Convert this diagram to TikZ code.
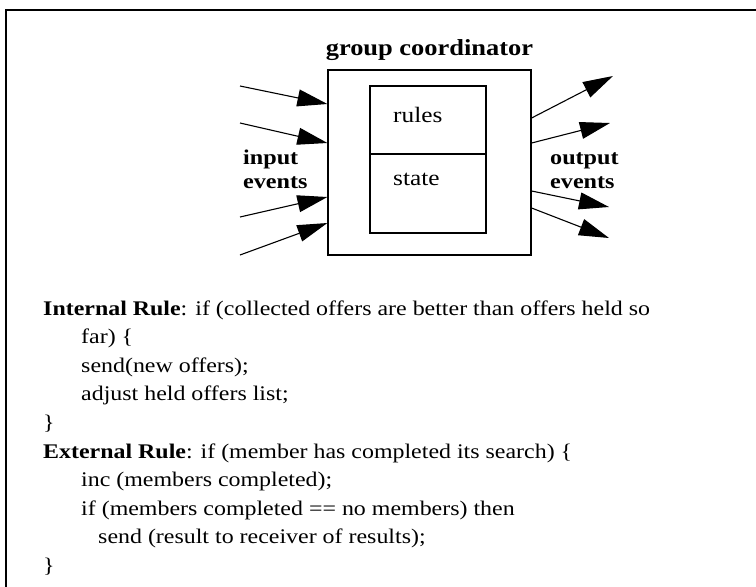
\documentclass[tikz,border=0pt]{standalone}
\usepackage{fontspec}
\setmainfont{Liberation Serif}[FakeStretch=1.15]
\usetikzlibrary{arrows.meta}
\tikzset{
  box/.style={draw, line width=1.2pt, inner sep=0pt},
  evt/.style={line width=1.1pt, -{Triangle[length=30pt,width=17pt]}},
  lbl/.style={font=\fontsize{22}{24}\selectfont, inner sep=0pt, anchor=base west},
  side/.style={font=\fontsize{21}{24}\selectfont\bfseries, inner sep=0pt, anchor=base west, align=left},
  body/.style={font=\fontsize{20.8}{24}\selectfont, inner sep=0pt, anchor=base west},
}
\begin{document}
\begin{tikzpicture}[x=1pt, y=-1pt]
\useasboundingbox (0,0) rectangle (756,587);
% frame (top and left edges)
\draw[line width=1.6pt] (6,587) -- (6,10) -- (756,10);

% coordinator and its inner rules/state box
\node[box, minimum width=203pt, minimum height=185pt] (coord) at (429.5,162.5) {};
\node[box, minimum width=116pt, minimum height=68pt] (rulesbox) at (428,120) {};
\node[box, minimum width=116pt, minimum height=79pt] (statebox) at (428,193.5) {};
\node[font=\fontsize{23}{24}\selectfont\bfseries, inner sep=0pt, anchor=base] (title) at (429.5,55) {group coordinator};
\node[lbl] (rules) at (393,122) {rules};
\node[lbl] (state) at (393,185) {state};

% incoming events
\coordinate (i1) at (240,86);  \coordinate (i2) at (240,123);
\coordinate (i3) at (240,217); \coordinate (i4) at (240,255);
\draw[evt] (i1) -- (coord.west |- 0,104);
\draw[evt] (i2) -- (coord.west |- 0,143);
\draw[evt] (i3) -- (coord.west |- 0,197);
\draw[evt] (i4) -- (coord.west |- 0,223);
\node[side] (inev) at (243,188) {input\\events};

% outgoing events
\coordinate (o1) at (613,76);  \coordinate (o2) at (610,123);
\coordinate (o3) at (609,207); \coordinate (o4) at (609,238);
\draw[evt] (coord.east |- 0,118) -- (o1);
\draw[evt] (coord.east |- 0,143) -- (o2);
\draw[evt] (coord.east |- 0,191) -- (o3);
\draw[evt] (coord.east |- 0,208) -- (o4);
\node[side] (outev) at (550,188) {output\\events};

% rule listing
\node[body] (l1) at (43,315) {\textbf{Internal Rule}: if (collected offers are better than offers held so};
\node[body] (l2) at (81,343.6) {far) \{};
\node[body] (l3) at (81,372.2) {send(new offers);};
\node[body] (l4) at (81,400.8) {adjust held offers list;};
\node[body] (l5) at (43,429.4) {\}};
\node[body] (l6) at (43,458) {\textbf{External Rule}: if (member has completed its search) \{};
\node[body] (l7) at (81,486.6) {inc (members completed);};
\node[body] (l8) at (81,515.2) {if (members completed == no members) then};
\node[body] (l9) at (98,543.8) {send (result to receiver of results);};
\node[body] (l10) at (43,572.4) {\}};
\end{tikzpicture}
\end{document}
